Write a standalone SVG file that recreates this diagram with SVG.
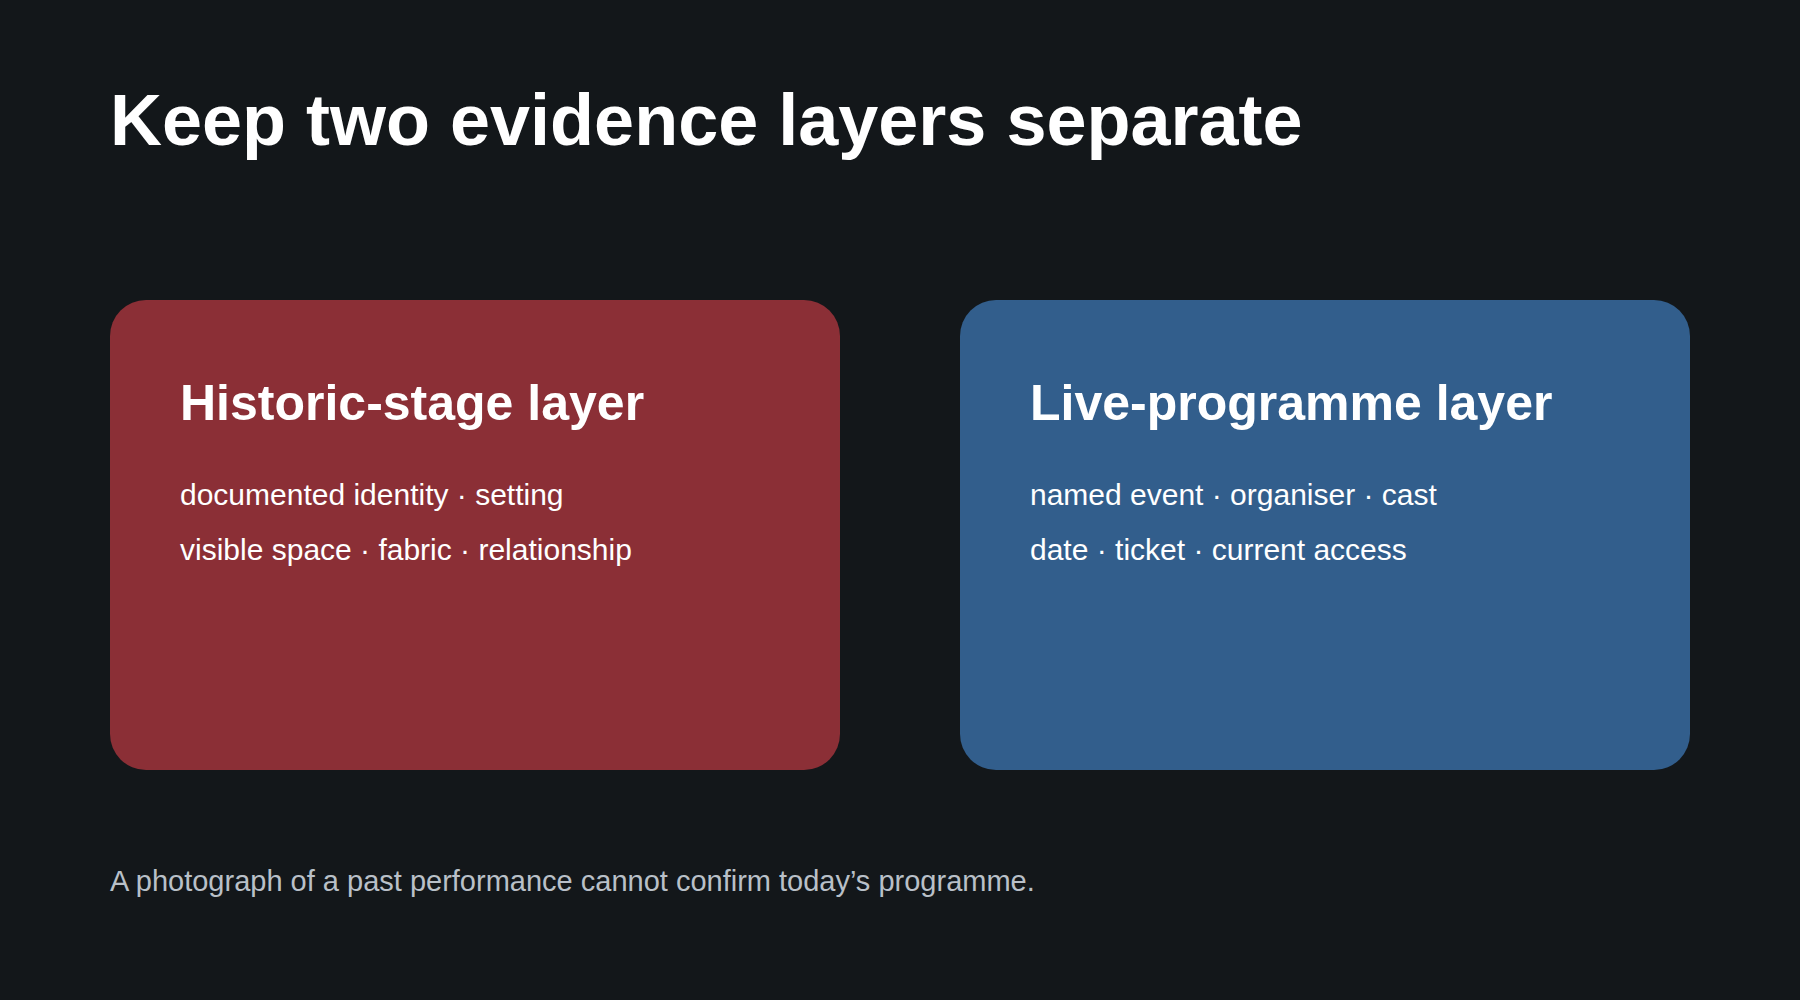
<svg xmlns="http://www.w3.org/2000/svg" width="1800" height="1000" viewBox="0 0 1800 1000">
  <style>
    text { font-family: "Liberation Sans", Arial, sans-serif; }
    .title { font-size: 72px; font-weight: bold; fill: #ffffff; }
    .head { font-size: 50px; font-weight: bold; fill: #ffffff; }
    .body { font-size: 30px; fill: #ffffff; }
    .foot { font-size: 29px; fill: #b9c0c8; }
  </style>
  <rect x="0" y="0" width="1800" height="1000" fill="#13171a"/>
  <text class="title" x="110" y="145">Keep two evidence layers separate</text>
  <g id="historic-stage-layer">
    <rect x="110" y="300" width="730" height="470" rx="36" ry="36" fill="#8b2f36"/>
    <text class="head" x="180" y="420">Historic-stage layer</text>
    <text class="body" x="180" y="505">documented identity · setting</text>
    <text class="body" x="180" y="560">visible space · fabric · relationship</text>
  </g>
  <g id="live-programme-layer">
    <rect x="960" y="300" width="730" height="470" rx="36" ry="36" fill="#325e8c"/>
    <text class="head" x="1030" y="420">Live-programme layer</text>
    <text class="body" x="1030" y="505">named event · organiser · cast</text>
    <text class="body" x="1030" y="560">date · ticket · current access</text>
  </g>
  <g id="connectors"></g>
  <text class="foot" x="110" y="891">A photograph of a past performance cannot confirm today’s programme.</text>
</svg>
